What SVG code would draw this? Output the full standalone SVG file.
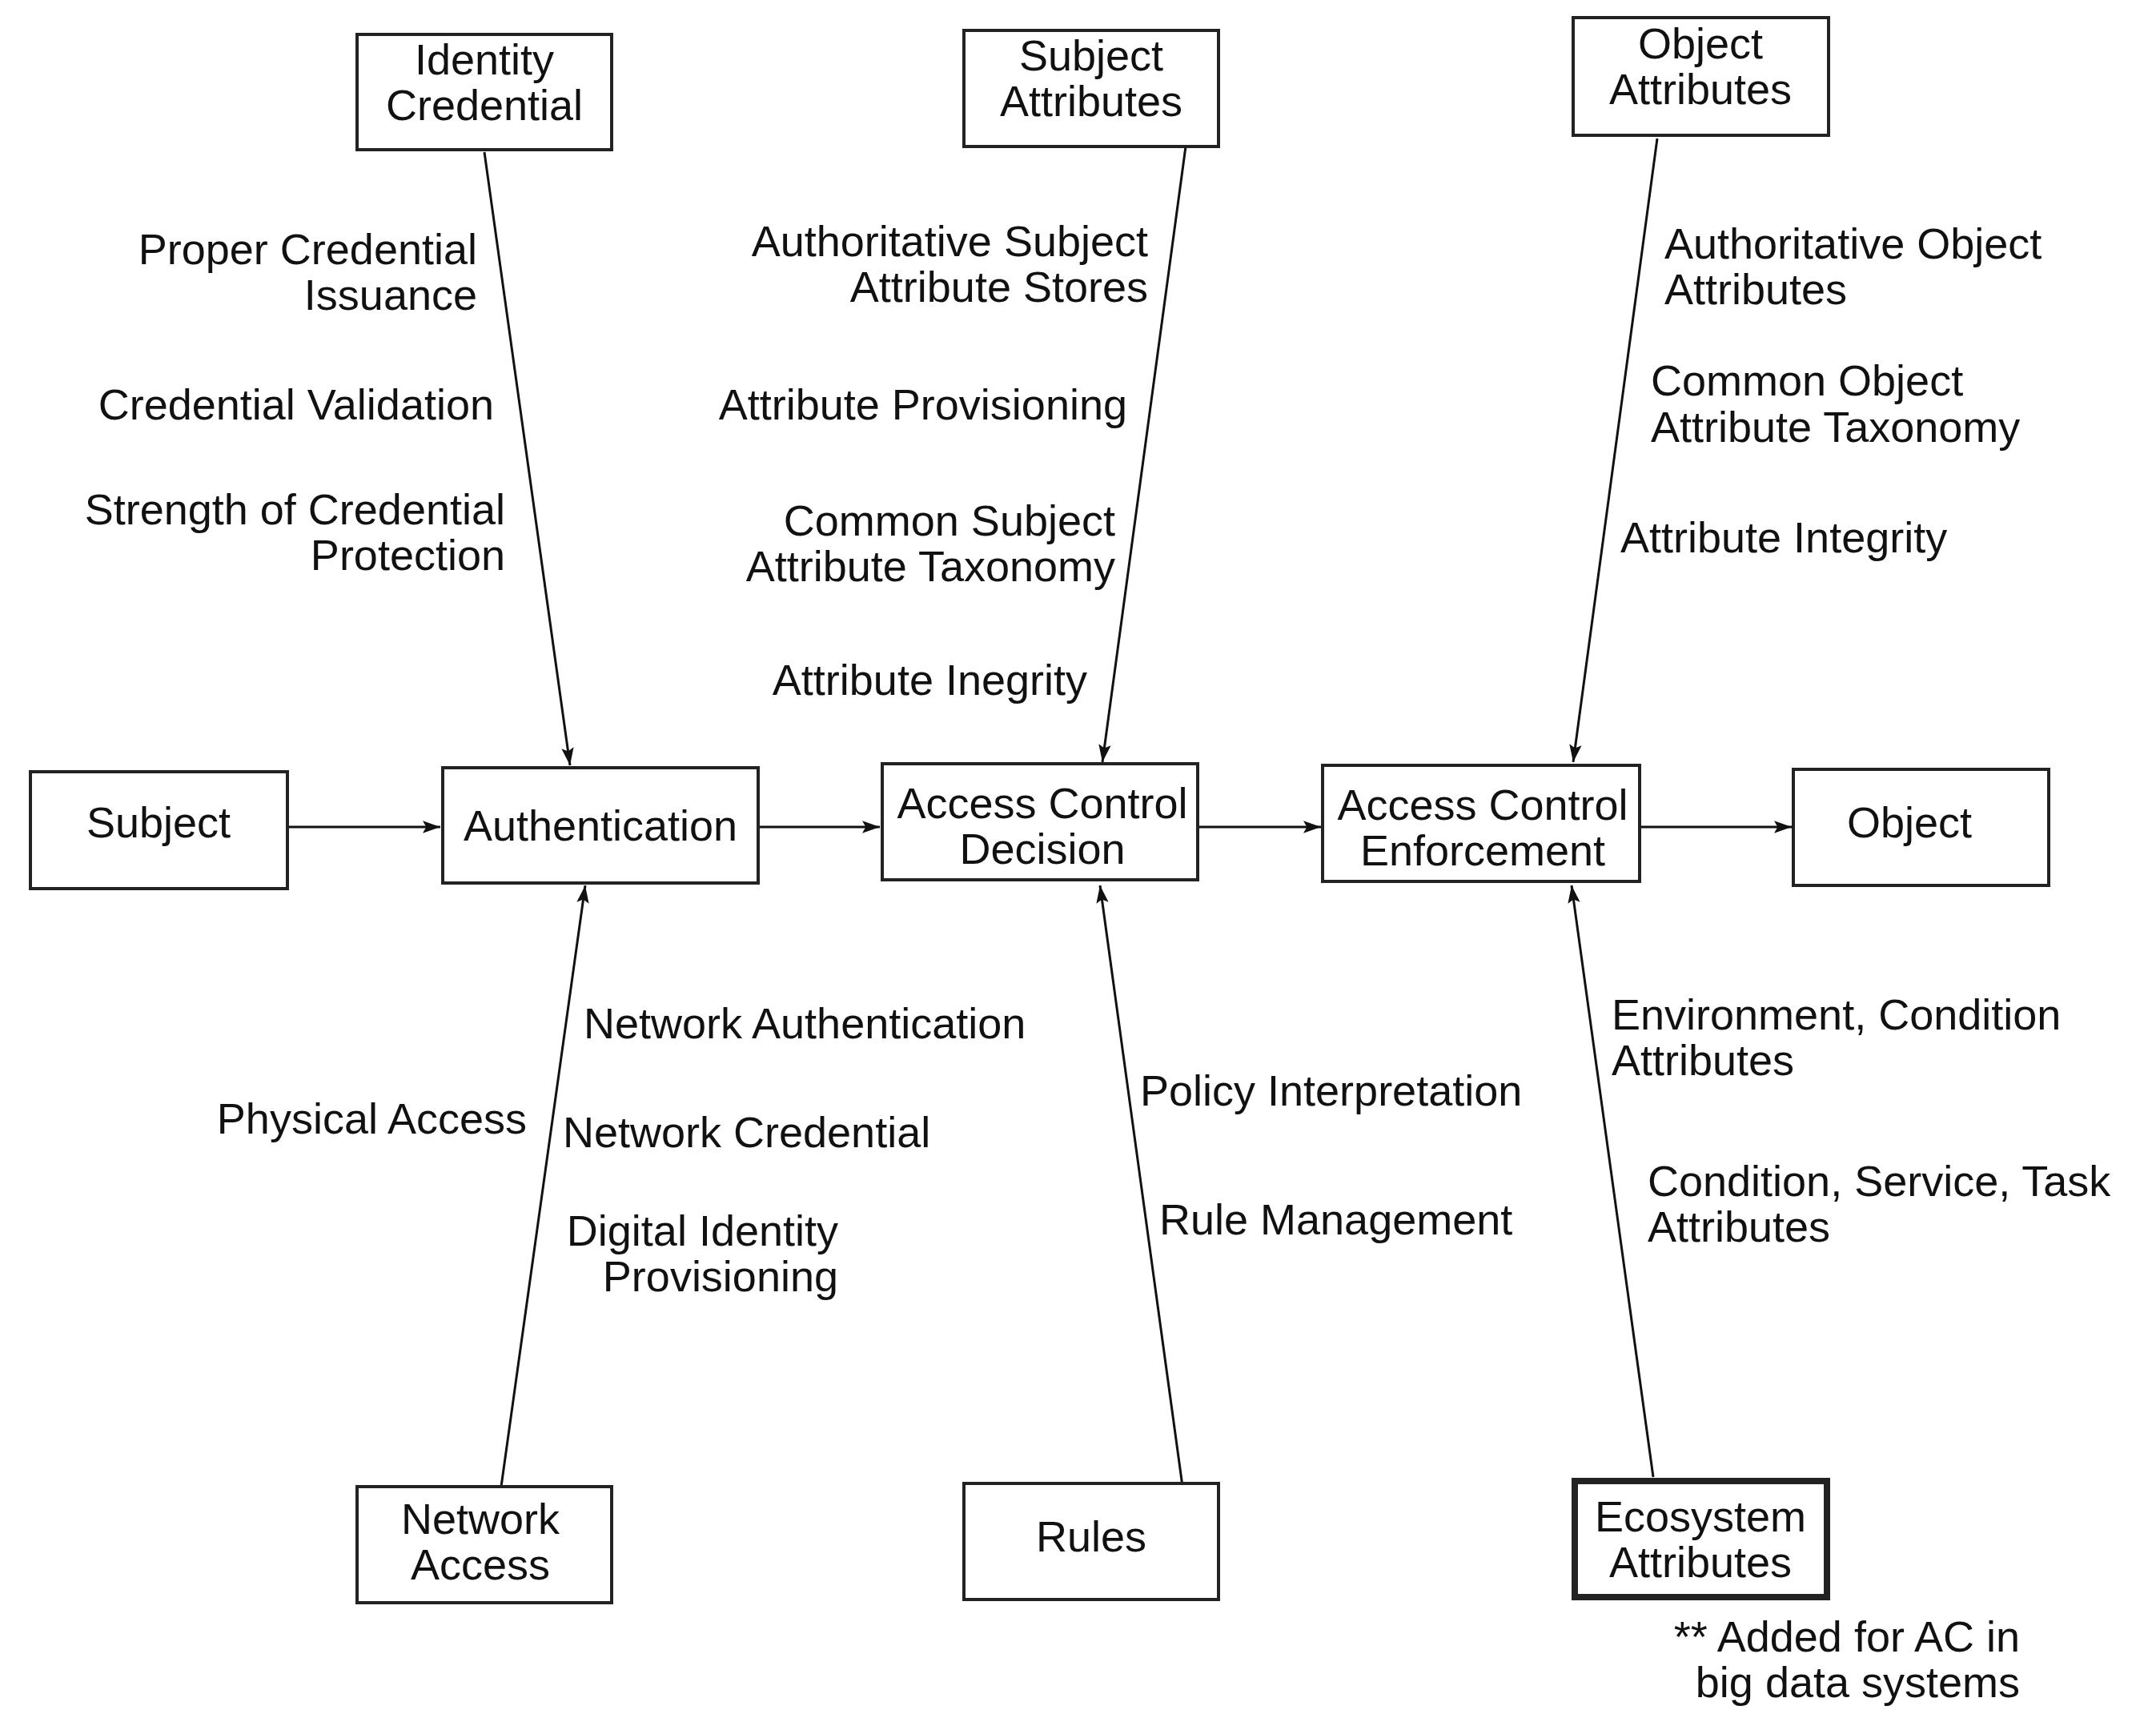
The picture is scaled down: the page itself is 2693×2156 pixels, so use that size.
<svg xmlns="http://www.w3.org/2000/svg" width="2693" height="2156" viewBox="0 0 2693 2156">
<style>
text{font-family:"Liberation Sans",Arial,sans-serif;font-size:54px;fill:#111}
.b{fill:#fff;stroke:#222;stroke-width:4}
.c{text-anchor:middle}
.e{text-anchor:end}
line{stroke:#111;stroke-width:3;marker-end:url(#a)}
</style>
<defs><marker id="a" viewBox="0 0 10 10" refX="10" refY="5" markerWidth="22" markerHeight="22" markerUnits="userSpaceOnUse" orient="auto"><path d="M0,1.5 L10,5 L0,8.5 L2,5 Z" fill="#111"/></marker></defs>
<rect width="2693" height="2156" fill="#fff"/>
<g id="connectors">
<line x1="359" y1="1033" x2="550" y2="1033"/>
<line x1="947" y1="1033" x2="1099" y2="1033"/>
<line x1="1496" y1="1033" x2="1650" y2="1033"/>
<line x1="2048" y1="1033" x2="2238" y2="1033"/>
<line x1="605" y1="190" x2="712" y2="956"/>
<line x1="1481" y1="183" x2="1377" y2="952"/>
<line x1="2070" y1="173" x2="1965" y2="952"/>
<line x1="626" y1="1857" x2="731" y2="1106"/>
<line x1="1479" y1="1871" x2="1374" y2="1106"/>
<line x1="2065" y1="1845" x2="1963" y2="1106"/>
</g>
<g id="identity"><rect class="b" x="446" y="43" width="318" height="144"/><text class="c" x="605" y="93">Identity</text><text class="c" x="605" y="150">Credential</text></g>
<g id="subjattr"><rect class="b" x="1204" y="38" width="318" height="145"/><text class="c" x="1363" y="88">Subject</text><text class="c" x="1363" y="145">Attributes</text></g>
<g id="objattr"><rect class="b" x="1965" y="22" width="319" height="147"/><text class="c" x="2124" y="73">Object</text><text class="c" x="2124" y="130">Attributes</text></g>
<g id="subject"><rect class="b" x="38" y="964" width="321" height="146"/><text class="c" x="198" y="1046">Subject</text></g>
<g id="auth"><rect class="b" x="553" y="959" width="394" height="144"/><text class="c" x="750" y="1050">Authentication</text></g>
<g id="acd"><rect class="b" x="1102" y="954" width="394" height="145"/><text class="c" x="1302" y="1022">Access Control</text><text class="c" x="1302" y="1079">Decision</text></g>
<g id="ace"><rect class="b" x="1652" y="956" width="396" height="145"/><text class="c" x="1852" y="1024">Access Control</text><text class="c" x="1852" y="1081">Enforcement</text></g>
<g id="object"><rect class="b" x="2240" y="961" width="319" height="145"/><text class="c" x="2385" y="1046">Object</text></g>
<g id="netaccess"><rect class="b" x="446" y="1857" width="318" height="145"/><text class="c" x="600" y="1916">Network</text><text class="c" x="600" y="1973">Access</text></g>
<g id="rules"><rect class="b" x="1204" y="1853" width="318" height="145"/><text class="c" x="1363" y="1938">Rules</text></g>
<g id="ecosystem"><rect class="b" x="1967" y="1850" width="315" height="145" style="stroke-width:8"/><text class="c" x="2124" y="1913">Ecosystem</text><text class="c" x="2124" y="1970">Attributes</text></g>
<g id="labels">
<text class="e" x="596" y="330">Proper Credential</text><text class="e" x="596" y="387">Issuance</text>
<text class="e" x="617" y="524">Credential Validation</text>
<text class="e" x="631" y="655">Strength of Credential</text><text class="e" x="631" y="712">Protection</text>
<text class="e" x="1434" y="320">Authoritative Subject</text><text class="e" x="1434" y="377">Attribute Stores</text>
<text class="e" x="1408" y="524">Attribute Provisioning</text>
<text class="e" x="1393" y="669">Common Subject</text><text class="e" x="1393" y="726">Attribute Taxonomy</text>
<text class="e" x="1358" y="868">Attribute Inegrity</text>
<text x="2079" y="323">Authoritative Object</text><text x="2079" y="380">Attributes</text>
<text x="2062" y="494">Common Object</text><text x="2062" y="552">Attribute Taxonomy</text>
<text x="2024" y="690">Attribute Integrity</text>
<text x="729" y="1297">Network Authentication</text>
<text class="e" x="658" y="1416">Physical Access</text>
<text x="703" y="1433">Network Credential</text>
<text class="e" x="1047" y="1556">Digital Identity</text><text class="e" x="1047" y="1613">Provisioning</text>
<text x="1424" y="1381">Policy Interpretation</text>
<text x="1448" y="1542">Rule Management</text>
<text x="2013" y="1286">Environment, Condition</text><text x="2013" y="1343">Attributes</text>
<text x="2058" y="1494">Condition, Service, Task</text><text x="2058" y="1551">Attributes</text>
<text class="e" x="2523" y="2063">** Added for AC in</text><text class="e" x="2523" y="2120">big data systems</text>
</g>
</svg>
